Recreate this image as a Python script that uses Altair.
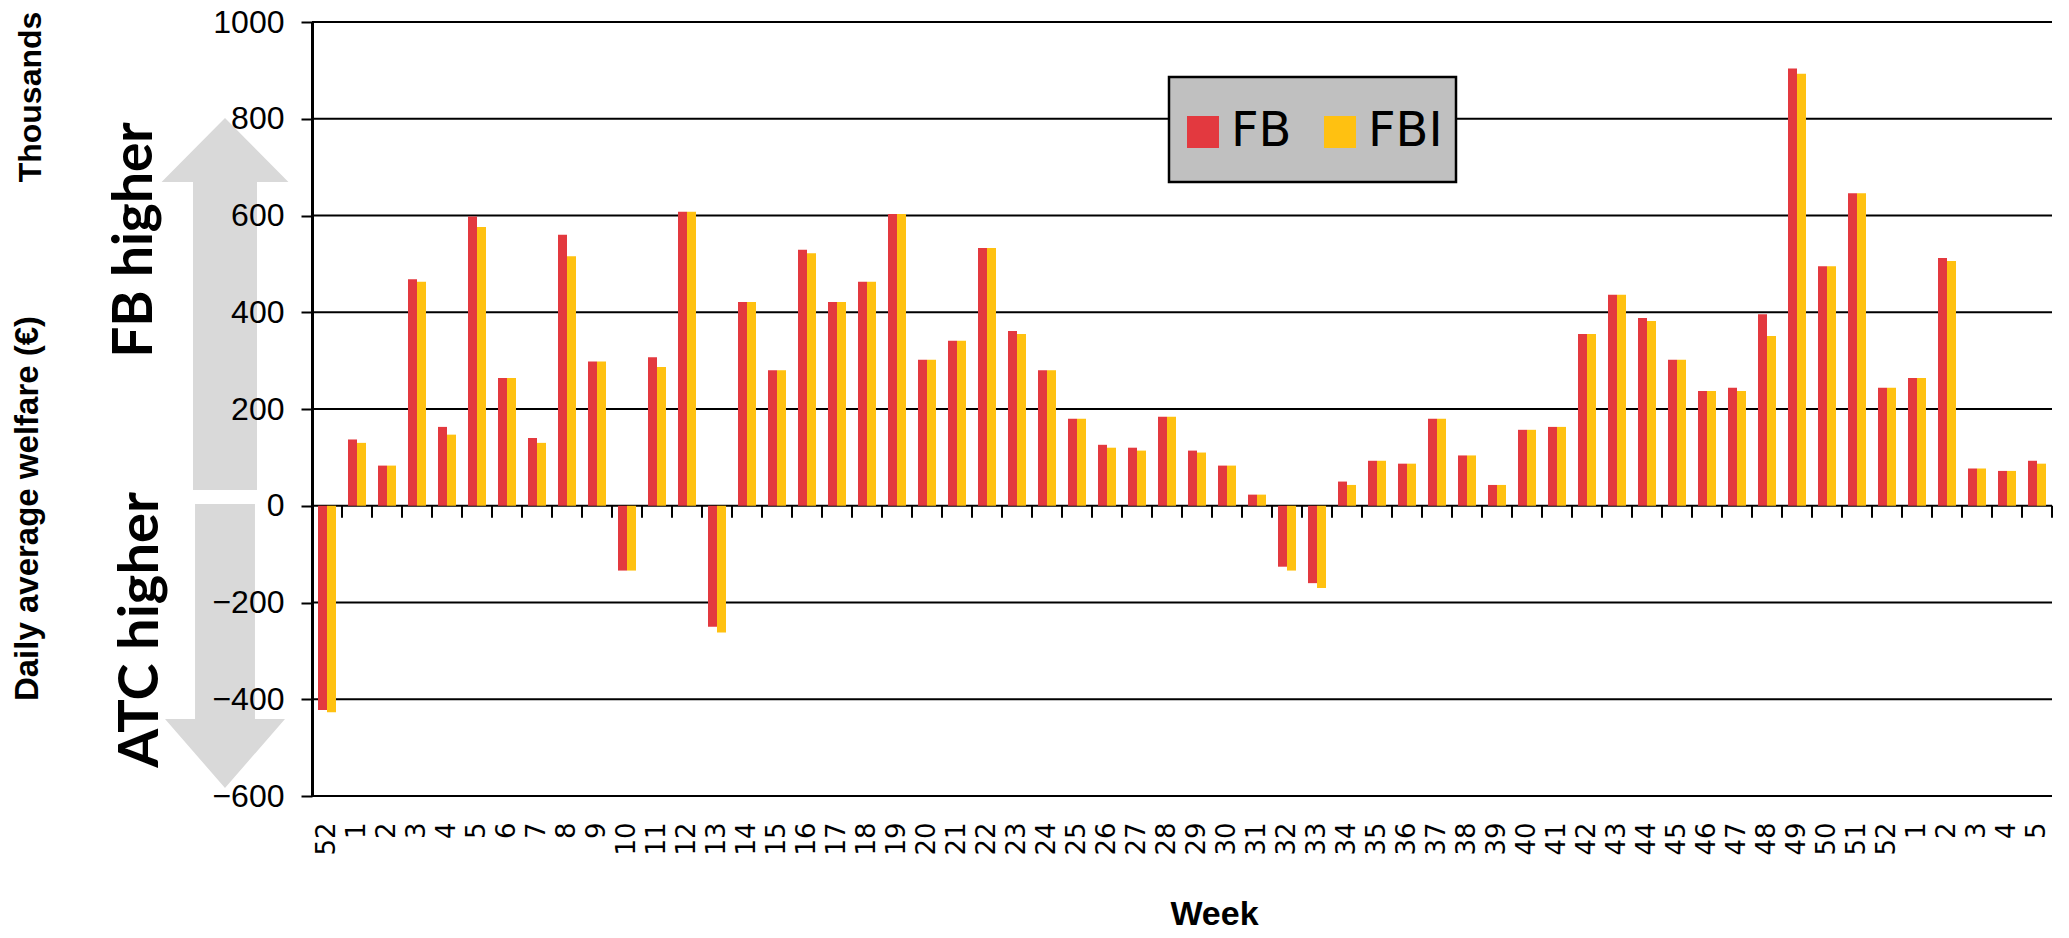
import json
import altair as alt
import pandas as pd

# ---- data ----
weeks = ["52", "1", "2", "3", "4", "5", "6", "7", "8", "9", "10", "11", "12", "13",
         "14", "15", "16", "17", "18", "19", "20", "21", "22", "23", "24", "25", "26",
         "27", "28", "29", "30", "31", "32", "33", "34", "35", "36", "37", "38", "39",
         "40", "41", "42", "43", "44", "45", "46", "47", "48", "49", "50", "51", "52",
         "1", "2", "3", "4", "5"]

fb = [-422, 137, 83, 468, 163, 598, 264, 140, 560, 298,
      -134, 307, 608, -250, 421, 280, 529, 421, 463, 603,
      302, 341, 533, 361, 280, 180, 126, 120, 184, 114,
      83, 23, -126, -160, 50, 93, 87, 180, 104, 43,
      157, 163, 355, 436, 388, 302, 237, 244, 396, 904,
      495, 646, 244, 264, 512, 77, 72, 93]

fbi = [-427, 130, 83, 463, 147, 576, 264, 130, 516, 298,
       -134, 287, 608, -262, 421, 280, 522, 421, 463, 603,
       302, 341, 533, 355, 280, 180, 120, 114, 184, 110,
       83, 23, -134, -170, 43, 93, 87, 180, 104, 43,
       157, 163, 355, 436, 382, 302, 237, 237, 351, 893,
       495, 646, 244, 264, 506, 77, 72, 87]

series_names = ["FB", "FBI"]
series_colors = ["#E3393F", "#FFC111"]
y_ticks = [-600, -400, -200, 0, 200, 400, 600, 800, 1000]

y_title = "Daily average welfare (€)"
unit_text = ["Thousands"]
up_text = ["FB higher"]
down_text = ["ATC higher"]
x_title = "Week"

# ---- tables ----
rows = []
for i, (w, a, b) in enumerate(zip(weeks, fb, fbi)):
    rows.append({"idx": i, "week": w, "series": "FB", "value": a})
    rows.append({"idx": i, "week": w, "series": "FBI", "value": b})
df = pd.DataFrame(rows)
df_weeks = pd.DataFrame({"idx": list(range(len(weeks))), "week": weeks})
df_grid = pd.DataFrame({"value": y_ticks})
last_idx = len(weeks) - 1

W, H = 1740, 774
STEP = W / len(weeks)

label_expr = json.dumps(weeks) + "[datum.value]"

x_enc = alt.X(
    "idx:O",
    scale=alt.Scale(paddingInner=0.4, paddingOuter=0.2),
    axis=alt.Axis(
        title=x_title, labelExpr=label_expr, labelAngle=270,
        labelFont="DejaVu Sans", labelFontSize=26, labelColor="black",
        labelPadding=26, labelOverlap=False, labelBound=False,
        ticks=False, domain=False, grid=False,
        titleFont="Liberation Sans", titleFontSize=34, titleFontWeight="bold",
        titleColor="black", titleX=902, titleY=128, titleAlign="center",
        titleBaseline="alphabetic",
    ),
)

y_scale = alt.Scale(domain=[-600, 1000], nice=False, zero=False)
y_axis = alt.Axis(
    values=y_ticks, format="d", grid=False, zindex=1,
    domain=True, domainColor="black", domainWidth=3,
    ticks=True, tickSize=11, tickWidth=2, tickColor="black",
    labelFont="Liberation Sans", labelFontSize=32, labelColor="black", labelPadding=17,
    title=y_title, titleFont="Liberation Sans", titleFontSize=33, titleFontWeight="bold",
    titleColor="black", titleAngle=270, titleX=-275, titleY=486,
    titleAlign="center", titleBaseline="alphabetic",
)
y_enc = alt.Y("value:Q", scale=y_scale, axis=y_axis)

grid = alt.Chart(df_grid).mark_rule(color="black", strokeWidth=2).encode(y=y_enc)

bars = alt.Chart(df).mark_bar(strokeWidth=0).encode(
    x=x_enc,
    xOffset=alt.XOffset("series:N", scale=alt.Scale(domain=series_names, paddingInner=0, paddingOuter=0)),
    y=y_enc,
    color=alt.Color(
        "series:N",
        scale=alt.Scale(domain=series_names, range=series_colors),
        legend=alt.Legend(
            title=None, orient="none", legendX=867, legendY=86, direction="horizontal",
            symbolType="square", symbolSize=1024, symbolStrokeWidth=0, symbolOpacity=1,
            labelFont="DejaVu Sans", labelFontSize=48, labelColor="black",
            labelOffset=4, columnPadding=24, padding=0, labelLimit=0, gridAlign="none",
        ),
    ),
)

# zero-line category boundary ticks
zero_ticks = alt.Chart(df_weeks).mark_rule(
    xOffset=-STEP / 2, y2Offset=12, strokeWidth=2, color="black"
).encode(x=x_enc, y=alt.datum(0), y2=alt.datum(0))

end_tick = alt.Chart(df_weeks).transform_filter(
    alt.datum.idx == last_idx
).mark_rule(
    xOffset=STEP / 2, y2Offset=12, strokeWidth=2, color="black"
).encode(x=x_enc, y=alt.datum(0), y2=alt.datum(0))

one = pd.DataFrame({"k": [0]})

legend_box = alt.Chart(one).mark_rect(
    fill="#C0C0C0", stroke="black", strokeWidth=2.5
).encode(x=alt.value(857), x2=alt.value(1144), y=alt.value(55), y2=alt.value(160))

up_path = ("M0,-1 L0.341,-0.656 L0.172,-0.656 L0.172,1 L-0.172,1 "
           "L-0.172,-0.656 L-0.341,-0.656 Z")
down_path = ("M-0.211,-1 L0.211,-1 L0.211,0.514 L0.4225,0.514 L0,1 "
             "L-0.4225,0.514 L-0.211,0.514 Z")

up_arrow = alt.Chart(one).mark_point(
    shape=up_path, filled=True, fill="#D9D9D9", strokeWidth=0, opacity=1, size=372 * 372
).encode(x=alt.value(-87), y=alt.value(282))

down_arrow = alt.Chart(one).mark_point(
    shape=down_path, filled=True, fill="#D9D9D9", strokeWidth=0, opacity=1, size=284 * 284
).encode(x=alt.value(-87), y=alt.value(624))

unit_label = alt.Chart(pd.DataFrame({"t": unit_text})).mark_text(
    angle=270, font="Liberation Sans", fontWeight="bold", fontSize=32,
    align="center", baseline="alphabetic", color="black"
).encode(x=alt.value(-271), y=alt.value(75), text="t:N")

up_label = alt.Chart(pd.DataFrame({"t": up_text})).mark_text(
    angle=270, font="Lato", fontWeight="bold", fontSize=55,
    align="center", baseline="alphabetic", color="black"
).encode(x=alt.value(-160), y=alt.value(218), text="t:N")

down_label = alt.Chart(pd.DataFrame({"t": down_text})).mark_text(
    angle=270, font="Lato", fontWeight="bold", fontSize=56,
    align="center", baseline="alphabetic", color="black"
).encode(x=alt.value(-154), y=alt.value(608), text="t:N")

chart = alt.layer(
    up_arrow, down_arrow, unit_label, up_label, down_label,
    grid, bars, zero_ticks, end_tick, legend_box,
).properties(
    width=W, height=H,
    padding={"left": 304, "top": 14, "right": 6, "bottom": 134},
    autosize=alt.AutoSizeParams(type="none"),
    background="white",
).configure_view(stroke=None)

chart.save("out.html", embed_options={"renderer": "svg", "actions": False})
